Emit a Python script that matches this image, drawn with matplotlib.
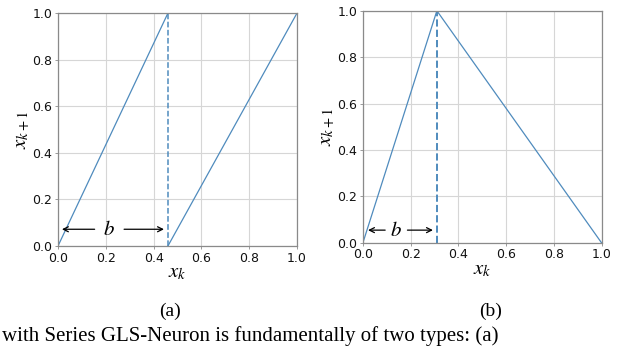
import matplotlib.pyplot as plt

plt.rcParams['mathtext.fontset'] = 'stix'

# skew tent map (a) and asymmetric tent map (b)
b_a = 0.46
x_a1 = [0.0, b_a]
y_a1 = [0.0, 1.0]
x_a2 = [b_a, 1.0]
y_a2 = [0.0, 1.0]

b_b = 0.31
x_b = [0.0, b_b, 1.0]
y_b = [0.0, 1.0, 0.0]

ticks = [0.0, 0.2, 0.4, 0.6, 0.8, 1.0]
tick_labels = ['0.0', '0.2', '0.4', '0.6', '0.8', '1.0']

line_color = '#4f8bbd'
serif = ['Liberation Serif', 'DejaVu Serif']

fig = plt.figure(figsize=(6.4, 3.47), dpi=100)
ax_a = fig.add_axes([0.0906, 0.291, 0.3734, 0.671])
ax_b = fig.add_axes([0.567, 0.300, 0.373, 0.669])


def style(ax, ypad):
    ax.set_xlim(0, 1)
    ax.set_ylim(0, 1)
    ax.set_xticks(ticks)
    ax.set_yticks(ticks)
    ax.set_xticklabels(tick_labels)
    ax.set_yticklabels(tick_labels)
    ax.grid(True, color='#d6d6d6', linewidth=0.8)
    ax.set_axisbelow(True)
    for s in ax.spines.values():
        s.set_color('#8a8a8a')
        s.set_linewidth(0.9)
    ax.tick_params(labelsize=9, length=2.5, width=0.6, color='#8a8a8a',
                   pad=1.5, labelcolor='#111111')
    ax.set_xlabel(r'$x_k$', fontsize=15, labelpad=-2)
    ax.set_ylabel(r'$x_{k+1}$', fontsize=15, labelpad=ypad)


def b_arrow(ax, x0, x1, xb, y, gap):
    ax.annotate('', xy=(x0, y), xytext=(xb - gap, y),
                arrowprops=dict(arrowstyle='->', color='black', lw=0.9,
                                mutation_scale=9))
    ax.annotate('', xy=(x1, y), xytext=(xb + gap, y),
                arrowprops=dict(arrowstyle='->', color='black', lw=0.9,
                                mutation_scale=9))
    ax.text(xb, y, r'$b$', fontsize=15, ha='center', va='center')


# (a)
ax_a.plot(x_a1, y_a1, color=line_color, linewidth=0.9)
ax_a.plot(x_a2, y_a2, color=line_color, linewidth=0.9)
ax_a.plot([b_a, b_a], [0, 1], color=line_color, linewidth=1.1, linestyle='--')
b_arrow(ax_a, 0.005, 0.455, 0.215, 0.072, 0.05)
style(ax_a, 0)

# (b)
ax_b.plot(x_b, y_b, color=line_color, linewidth=0.9)
ax_b.plot([b_b, b_b], [0, 1], color=line_color, linewidth=1.4, linestyle='--')
b_arrow(ax_b, 0.01, 0.305, 0.14, 0.055, 0.035)
style(ax_b, 0)

# captions
fig.text(170 / 640, 1 - 311 / 347, '(a)', fontsize=14, family=serif,
         ha='center', va='center')
fig.text(491 / 640, 1 - 311 / 347, '(b)', fontsize=14, family=serif,
         ha='center', va='center')
fig.text(0.003, 0.004, 'with Series GLS-Neuron is fundamentally of two types: (a)',
         fontsize=15, family=serif, ha='left', va='bottom')

fig.savefig('out.png', dpi=100)
